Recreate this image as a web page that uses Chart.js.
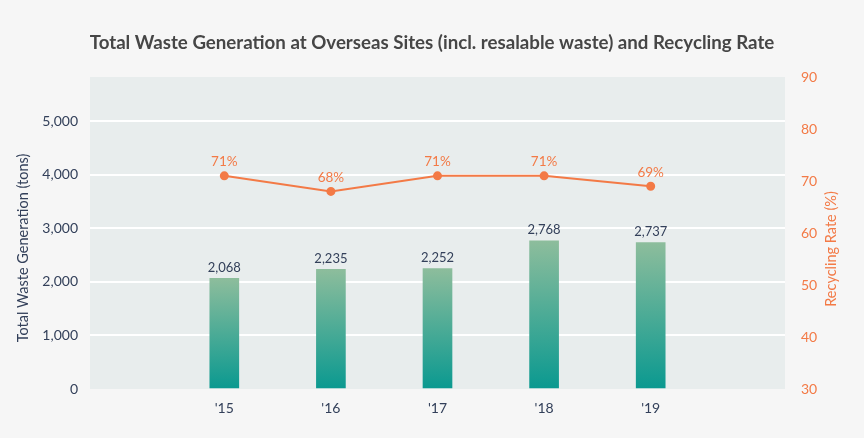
<!DOCTYPE html>
<html>
<head>
<meta charset="utf-8">
<script src="https://cdn.jsdelivr.net/npm/chart.js@4.4.1/dist/chart.umd.min.js"></script>
<style>
  html, body { margin: 0; padding: 0; background: #f6f6f6; }
  #wrap { width: 864px; height: 438px; position: relative; }
</style>
</head>
<body>
<div id="wrap"><canvas id="wasteChart"></canvas></div>
<script>
/* Overseas waste generation + recycling rate */

const years = ["'15", "'16", "'17", "'18", "'19"];
const wasteTons = [2068, 2235, 2252, 2768, 2737];
const recyclingRate = [71, 68, 71, 71, 69];
const wasteTicks = [0, 1000, 2000, 3000, 4000, 5000];

const FONT = 'Lato, "Open Sans", sans-serif';
const DARK = '#33405a';
const ORANGE = '#f37a46';

// plot background + axis titles + value labels
const decorPlugin = {
    id: 'decor',
    beforeDraw(chart) {
        const { ctx, chartArea: a } = chart;
        ctx.save();
        ctx.fillStyle = '#e8eded';
        ctx.fillRect(a.left, a.top, a.right - a.left, a.bottom - a.top);
        ctx.restore();
    },
    afterDatasetsDraw(chart) {
        const { ctx } = chart;
        ctx.save();
        ctx.textAlign = 'center';
        ctx.textBaseline = 'middle';

        ctx.font = '13px ' + FONT;
        ctx.fillStyle = DARK;
        chart.getDatasetMeta(0).data.forEach((bar, i) => {
            ctx.fillText(wasteTons[i].toLocaleString('en-US'), bar.x, bar.y - 11);
        });

        ctx.font = '13.5px ' + FONT;
        ctx.fillStyle = ORANGE;
        chart.getDatasetMeta(1).data.forEach((pt, i) => {
            ctx.fillText(recyclingRate[i] + '%', pt.x, pt.y - 14);
        });

        // axis titles, both read bottom-to-top
        ctx.font = '14.5px ' + FONT;
        ctx.fillStyle = DARK;
        ctx.translate(23, 248);
        ctx.rotate(-Math.PI / 2);
        ctx.fillText('Total Waste Generation (tons)', 0, 0);
        ctx.setTransform(1, 0, 0, 1, 0, 0);
        ctx.fillStyle = ORANGE;
        ctx.translate(831, 249);
        ctx.rotate(-Math.PI / 2);
        ctx.fillText('Recycling Rate (%)', 0, 0);
        ctx.restore();
    }
};

function barGradient(context) {
    const chart = context.chart;
    if (!chart.chartArea) return '#4aa99a';
    const y = chart.scales.y;
    const top = y.getPixelForValue(context.raw ? context.raw.y : 0);
    const bottom = y.getPixelForValue(0);
    const g = chart.ctx.createLinearGradient(0, top, 0, bottom);
    g.addColorStop(0, '#8dbd9c');
    g.addColorStop(1, '#0a9990');
    return g;
}

new Chart(document.getElementById('wasteChart'), {
    type: 'bar',
    data: {
        datasets: [
            {
                type: 'bar',
                data: wasteTons.map((v, i) => ({ x: i, y: v })),
                backgroundColor: barGradient,
                barThickness: 29,
                yAxisID: 'y',
                order: 2
            },
            {
                type: 'line',
                data: recyclingRate.map((v, i) => ({ x: i, y: v })),
                borderColor: ORANGE,
                backgroundColor: ORANGE,
                borderWidth: 2,
                pointRadius: 3.5,
                pointHoverRadius: 3.5,
                tension: 0,
                yAxisID: 'y2',
                order: 1
            }
        ]
    },
    options: {
        responsive: true,
        maintainAspectRatio: false,
        animation: false,
        layout: { padding: 0 },
        plugins: {
            legend: { display: false },
            tooltip: { enabled: false },
            title: {
                display: true,
                text: 'Total Waste Generation at Overseas Sites (incl. resalable waste) and Recycling Rate',
                color: '#464646',
                font: { family: FONT, size: 18.7, weight: 'bold', lineHeight: 1.2 },
                padding: { top: 32, bottom: 22.6 }
            }
        },
        scales: {
            x: {
                type: 'linear',
                offset: false,
                min: -1.26,
                max: 5.26,
                afterBuildTicks: axis => { axis.ticks = years.map((_, i) => ({ value: i })); },
                afterFit: axis => { axis.height = 49; },
                ticks: {
                    callback: v => years[v],
                    color: DARK,
                    font: { family: FONT, size: 14 },
                    padding: 3,
                    maxRotation: 0
                },
                grid: { display: false },
                border: { display: false }
            },
            y: {
                position: 'left',
                min: 0,
                max: 5830,
                afterBuildTicks: axis => { axis.ticks = wasteTicks.map(v => ({ value: v })); },
                afterFit: axis => { axis.width = 90; },
                ticks: {
                    callback: v => v.toLocaleString('en-US'),
                    color: DARK,
                    font: { family: FONT, size: 14 },
                    padding: 12
                },
                grid: {
                    color: c => (c.tick && c.tick.value === 0 ? 'rgba(0,0,0,0)' : '#ffffff'),
                    lineWidth: 2,
                    drawTicks: false
                },
                border: { display: false }
            },
            y2: {
                position: 'right',
                min: 30,
                max: 90,
                afterFit: axis => { axis.width = 79; },
                ticks: {
                    stepSize: 10,
                    color: ORANGE,
                    font: { family: FONT, size: 14 },
                    padding: 8
                },
                grid: { display: false },
                border: { display: false }
            }
        }
    },
    plugins: [decorPlugin]
});
</script>
</body>
</html>
